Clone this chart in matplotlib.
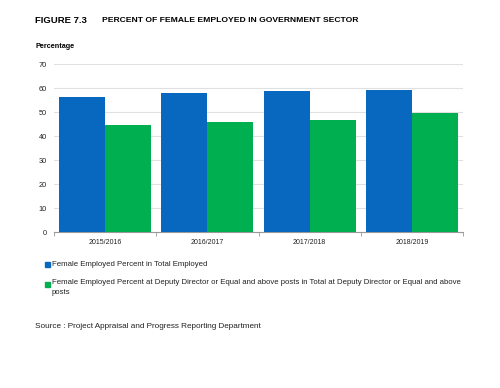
import matplotlib
matplotlib.use("Agg")
import matplotlib.pyplot as plt
import numpy as np
from matplotlib.patches import Rectangle

plt.rcParams['font.family'] = ['Liberation Sans', 'DejaVu Sans']

categories = ["2015/2016", "2016/2017", "2017/2018", "2018/2019"]
total_employed = [56.4, 57.9, 58.7, 59.0]
deputy_director = [44.7, 46.0, 46.5, 49.7]
series_labels = ["Female Employed Percent in Total Employed",
                 "Female Employed Percent at Deputy Director or Equal and above posts in Total at Deputy Director or Equal and above\nposts"]
yticks = [0, 10, 20, 30, 40, 50, 60, 70]

blue = "#0868C0"
green = "#00B050"

fig = plt.figure(figsize=(5, 3.88), dpi=100)
ax = fig.add_axes([0.108, 0.402, 0.818, 0.433])

x = np.arange(len(categories))
w = 0.45
ax.bar(x - w/2, total_employed, w, color=blue, zorder=3)
ax.bar(x + w/2, deputy_director, w, color=green, zorder=3)

ax.set_xlim(-0.5, len(categories) - 0.5)
ax.set_ylim(0, 70)
ax.set_yticks(yticks)
ax.yaxis.grid(True, color="#E0E0E0", linewidth=0.8, zorder=0)
ax.tick_params(axis='y', length=0, labelsize=5.3, pad=5, colors="#222222")
ax.set_xticks(x)
ax.set_xticklabels(categories)
ax.tick_params(axis='x', length=0, labelsize=5.0, pad=5, colors="#222222")
ax.set_xticks(np.arange(-0.5, len(categories)), minor=True)
ax.tick_params(axis='x', which='minor', length=3, color="#999999")
for s in ['left', 'right', 'top']:
    ax.spines[s].set_visible(False)
ax.spines['bottom'].set_color("#999999")

fig.text(0.07, 0.948, "FIGURE 7.3", fontsize=6.8, fontweight='bold', va='center')
fig.text(0.204, 0.948, "PERCENT OF FEMALE EMPLOYED IN GOVERNMENT SECTOR", fontsize=6.1, fontweight='bold', va='center')
fig.text(0.07, 0.879, "Percentage", fontsize=5.2, fontweight='bold', va='center')

# legend
fig.patches.append(Rectangle((45/500, 1 - 266.5/388), 5/500, 5/388,
                             transform=fig.transFigure, color=blue, figure=fig))
fig.text(52/500, 1 - 264/388, series_labels[0], fontsize=5.6, va='center', color="#222222")
fig.patches.append(Rectangle((45/500, 1 - 286.5/388), 5/500, 5/388,
                             transform=fig.transFigure, color=green, figure=fig))
fig.text(52/500, 1 - 279.5/388, series_labels[1], fontsize=5.6, va='top',
         color="#222222", linespacing=1.45)

fig.text(35/500, 1 - 327/388, "Source : Project Appraisal and Progress Reporting Department",
         fontsize=5.9, va='center', color="#222222")

fig.savefig("out.png", dpi=100, facecolor="white")
